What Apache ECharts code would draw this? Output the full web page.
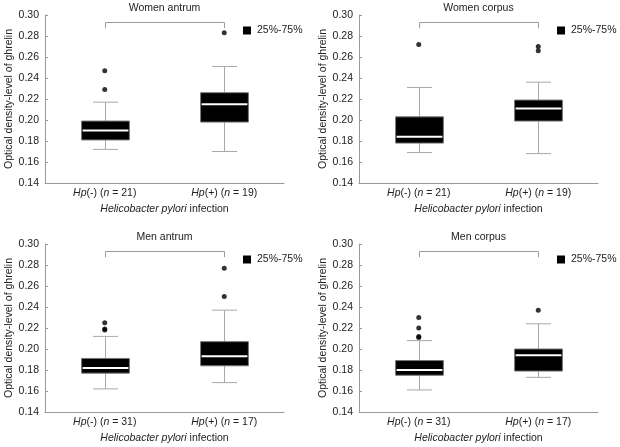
<!DOCTYPE html>
<html><head><meta charset="utf-8">
<script src="https://cdn.jsdelivr.net/npm/echarts@6/dist/echarts.min.js"></script>
<style>html,body{margin:0;padding:0;background:#fff}#c{width:620px;height:447px}</style>
</head><body><div id="c"></div>
<script>
// ---- data ----
const panelTitles = ['Women antrum', 'Women corpus', 'Men antrum', 'Men corpus'];
const categories = ['(-)', '(+)'];
const nNeg = [21, 21, 31, 31];
const nPos = [19, 19, 17, 17];
const yMin = 0.14, yMax = 0.30, yStep = 0.02;
const legendLabel = '25%-75%';
const xAxisTitle = 'Helicobacter pylori';
const xAxisTitleTail = ' infection';
const yAxisTitle = 'Optical density-level of ghrelin';

// [min, Q1, median, Q3, max] for Hp(-), Hp(+)
const womenAntrumBox = [[0.172, 0.181, 0.190, 0.199, 0.217], [0.170, 0.198, 0.215, 0.226, 0.251]];
const womenCorpusBox = [[0.169, 0.178, 0.184, 0.203, 0.231], [0.168, 0.199, 0.211, 0.219, 0.236]];
const menAntrumBox   = [[0.162, 0.177, 0.182, 0.191, 0.212], [0.168, 0.184, 0.193, 0.207, 0.237]];
const menCorpusBox   = [[0.161, 0.175, 0.180, 0.189, 0.208], [0.173, 0.179, 0.194, 0.200, 0.224]];
// outliers [categoryIndex, value]
const womenAntrumOut = [[0, 0.229], [0, 0.247], [1, 0.283]];
const womenCorpusOut = [[0, 0.272], [1, 0.266], [1, 0.270]];
const menAntrumOut   = [[0, 0.218], [0, 0.219], [0, 0.225], [1, 0.250], [1, 0.277]];
const menCorpusOut   = [[0, 0.211], [0, 0.212], [0, 0.220], [0, 0.230], [1, 0.237]];
// comparison bracket [from category, to category, top value, foot value]
const bracket = [0, 1, 0.2935, 0.2875];

const boxes = [womenAntrumBox, womenCorpusBox, menAntrumBox, menCorpusBox];
const outs = [womenAntrumOut, womenCorpusOut, menAntrumOut, menCorpusOut];

// ---- layout ----
const gridPos = [
  {left: 45, top: 15}, {left: 359, top: 15},
  {left: 45, top: 244}, {left: 359, top: 244}
];
const GW = 239, GH = 168;
const FONT = 'Liberation Sans';
const TXT = '#222';
const AX = '#9a9a9a';

function renderBox(params, api) {
  const x = api.value(0);
  const pMin = api.coord([x, api.value(1)]);
  const pQ1 = api.coord([x, api.value(2)]);
  const pMd = api.coord([x, api.value(3)]);
  const pQ3 = api.coord([x, api.value(4)]);
  const pMax = api.coord([x, api.value(5)]);
  const band = api.size([1, 0])[0];
  const bw = band * 0.4, cw = band * 0.21;
  const cx = Math.round(pMin[0]) + 0.5;
  const ws = {stroke: '#a8a8a8', lineWidth: 1};
  return {type: 'group', children: [
    {type: 'line', shape: {x1: cx, y1: pMin[1], x2: cx, y2: pMax[1]}, style: ws},
    {type: 'line', shape: {x1: cx - cw / 2, y1: pMin[1], x2: cx + cw / 2, y2: pMin[1]}, style: ws},
    {type: 'line', shape: {x1: cx - cw / 2, y1: pMax[1], x2: cx + cw / 2, y2: pMax[1]}, style: ws},
    {type: 'rect', shape: {x: cx - bw / 2, y: pQ3[1], width: bw, height: pQ1[1] - pQ3[1]},
      style: {fill: '#000', stroke: '#777', lineWidth: 1}},
    {type: 'line', shape: {x1: cx - bw / 2 + 1, y1: pMd[1], x2: cx + bw / 2 - 1, y2: pMd[1]},
      style: {stroke: '#fff', lineWidth: 2}}
  ]};
}
function renderBracket(params, api) {
  const a = api.coord([api.value(0), api.value(2)]);
  const b = api.coord([api.value(1), api.value(2)]);
  const af = api.coord([api.value(0), api.value(3)]);
  const bf = api.coord([api.value(1), api.value(3)]);
  const r = v => Math.round(v) + 0.5;
  return {type: 'polyline', shape: {points: [[r(af[0]), af[1]], [r(a[0]), r(a[1])], [r(b[0]), r(b[1])], [r(bf[0]), bf[1]]]},
    style: {stroke: AX, lineWidth: 1, fill: null}};
}

const option = {
  animation: false,
  textStyle: {fontFamily: FONT},
  title: [], legend: [], grid: [], xAxis: [], yAxis: [], series: []
};

for (let i = 0; i < 4; i++) {
  const g = gridPos[i];
  option.grid.push({left: g.left, top: g.top, width: GW, height: GH});
  option.title.push({
    text: panelTitles[i], left: g.left + GW / 2, top: g.top - 12, textAlign: 'center', padding: 0,
    textStyle: {fontSize: 10.5, fontWeight: 'normal', color: TXT, fontFamily: FONT}
  });
  option.legend.push({
    data: [legendLabel], left: g.left + 198, top: g.top + 10, padding: 0,
    icon: 'rect', itemWidth: 8, itemHeight: 8, itemGap: 4,
    textStyle: {fontSize: 10.5, color: TXT, fontFamily: FONT, padding: [0, 0, 0, 1]}
  });
  const nn = [nNeg[i], nPos[i]];
  option.xAxis.push({
    type: 'category', gridIndex: i, data: categories,
    axisLine: {lineStyle: {color: AX}},
    axisTick: {inside: true, alignWithLabel: true, length: 3, lineStyle: {color: AX}},
    axisLabel: {
      margin: 5, fontSize: 10.5, color: TXT, fontFamily: FONT,
      formatter: (v, idx) => '{i|Hp}' + v + ' ({i|n} = ' + nn[idx] + ')',
      rich: {i: {fontStyle: 'italic', fontSize: 10.5, color: TXT, fontFamily: FONT}}
    },
    name: '{i|' + xAxisTitle + '}' + xAxisTitleTail,
    nameLocation: 'middle', nameGap: 21,
    nameTextStyle: {fontSize: 10.5, color: TXT, fontFamily: FONT,
      rich: {i: {fontStyle: 'italic', fontSize: 10.5, color: TXT, fontFamily: FONT}}}
  });
  option.yAxis.push({
    type: 'value', gridIndex: i, min: yMin, max: yMax, interval: yStep,
    splitLine: {show: false},
    axisLine: {show: true, lineStyle: {color: AX}},
    axisTick: {show: true, inside: true, length: 3, lineStyle: {color: AX}},
    axisLabel: {margin: 6, fontSize: 10.5, color: TXT, fontFamily: FONT, formatter: v => v.toFixed(2)},
    name: yAxisTitle, nameLocation: 'middle', nameGap: 28,
    nameTextStyle: {fontSize: 10.5, color: TXT, fontFamily: FONT}
  });
  option.series.push({
    type: 'custom', name: legendLabel, xAxisIndex: i, yAxisIndex: i,
    renderItem: renderBox, itemStyle: {color: '#000'},
    encode: {x: 0, y: [1, 2, 3, 4, 5]},
    data: boxes[i].map((b, k) => [k].concat(b))
  });
  option.series.push({
    type: 'scatter', xAxisIndex: i, yAxisIndex: i, symbolSize: 5,
    itemStyle: {color: '#000'}, data: outs[i]
  });
  option.series.push({
    type: 'custom', xAxisIndex: i, yAxisIndex: i, renderItem: renderBracket,
    encode: {x: [0, 1], y: [2, 3]}, data: [bracket], silent: true
  });
}

const chart = echarts.init(document.getElementById('c'), null, {renderer: 'canvas'});
chart.setOption(option);
</script>
</body></html>
